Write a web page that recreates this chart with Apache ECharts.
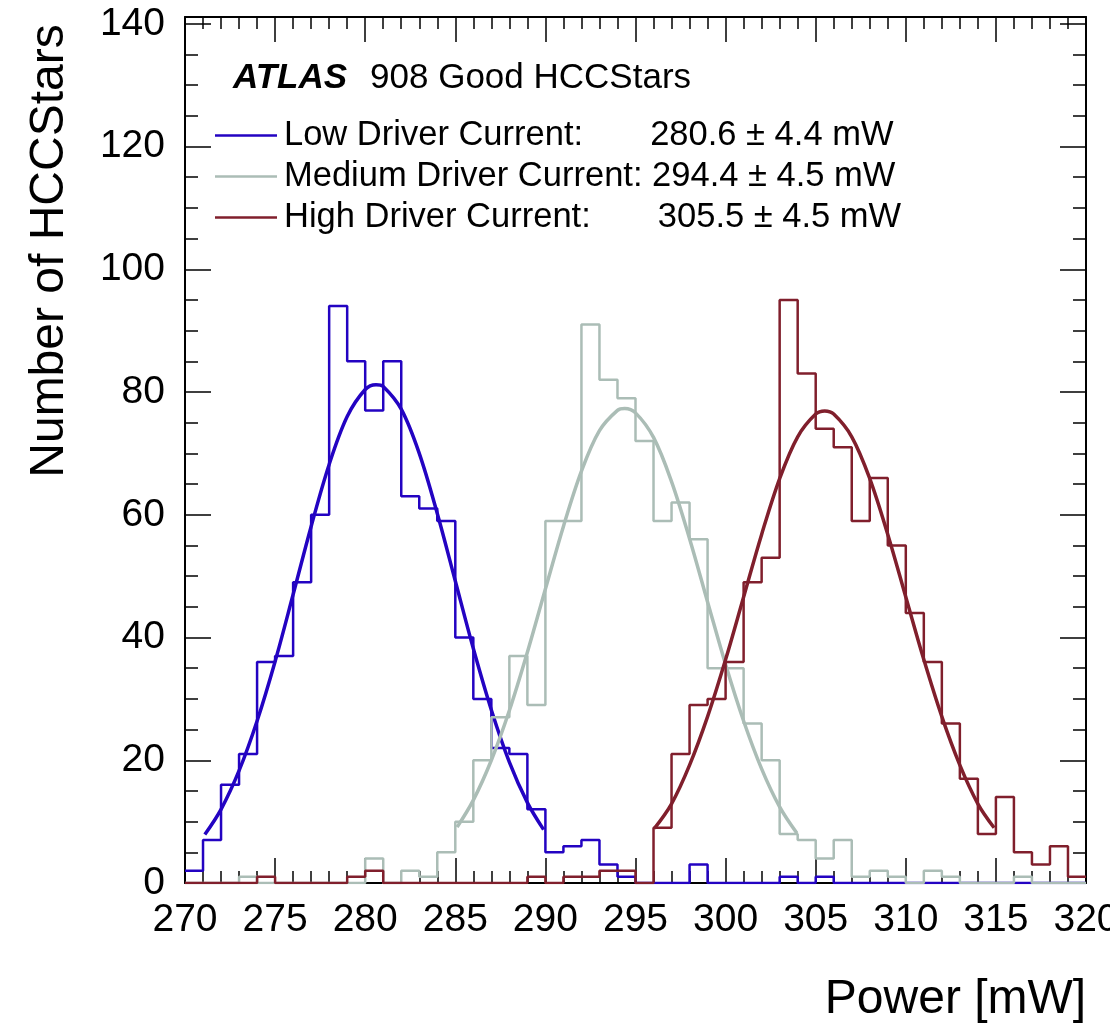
<!DOCTYPE html>
<html>
<head>
<meta charset="utf-8">
<script src="https://cdn.jsdelivr.net/npm/echarts@6/dist/echarts.min.js"></script>
<style>html,body{margin:0;padding:0;background:#fff}#c{width:1110px;height:1023px}</style>
</head>
<body>
<div id="c"></div>
<script>
// ---- data ----
const binStart = 270, binWidth = 1, nBins = 50;
const xTicks = [270, 275, 280, 285, 290, 295, 300, 305, 310, 315, 320];
const yTicks = [0, 20, 40, 60, 80, 100, 120, 140];

const lowCounts = [2,7,16,21,36,37,49,60,94,85, 77,85,63,61,59,40,30,22,21,12, 5,6,7,3,1,0,0,0,3,0, 0,0,0,1,0,1,0,0,0,0, 0,0,0,0,0,0,0,0,0,0];
const medCounts = [0,0,0,1,0,0,0,0,0,0, 4,0,2,1,5,10,20,27,37,29, 59,59,91,82,79,72,59,62,56,35, 35,26,20,8,7,4,7,1,2,1, 0,2,1,0,0,0,1,0,0,0];
const highCounts = [0,0,0,0,1,0,0,0,0,1, 2,0,0,0,0,0,0,0,0,1, 0,1,1,2,2,0,9,21,29,30, 36,49,53,95,83,74,71,59,66,55, 44,36,26,17,8,14,5,3,6,1];

const fitLowX = [271.1,272,273,274,275,276,277,278,279,280,280.6,281,282,283,284,285,286,287,288,289,289.9];
const fitLowY = [7.9,12.0,18.3,26.4,36.1,47.0,58.1,68.2,76.0,80.4,81.2,80.9,77.2,70.0,60.2,49.2,38.2,28.2,19.7,13.1,8.7];
const fitMedX = [285.1,286,287,288,289,290,291,292,293,294,294.4,295,296,297,298,299,300,301,302,303,303.96];
const fitMedY = [9.1,13.5,20.0,28.1,37.6,47.9,58.1,67.1,73.7,77.0,77.3,76.6,72.6,65.4,56.1,45.8,35.6,26.4,18.6,12.4,8.1];
const fitHighX = [296.05,297,298,299,300,301,302,303,304,305,305.5,306,307,308,309,310,311,312,313,314,314.9];
const fitHighY = [8.9,12.9,19.2,27.1,36.4,46.6,56.8,65.9,72.7,76.4,76.9,76.4,72.7,65.9,56.8,46.6,36.4,27.1,19.2,12.9,9.0];

const names = ['Low Driver Current:', 'Medium Driver Current:', 'High Driver Current:'];
const legendValues = ['280.6 \u00b1 4.4 mW', '294.4 \u00b1 4.5 mW', '305.5 \u00b1 4.5 mW'];
const legendSpacer = ['       ', ' ', '       '];
const colors = ['#2303c2', '#abbdb6', '#801f2c'];

// ---- build ----
const FONT = "'Liberation Sans', Arial, Helvetica, sans-serif";
function stepData(vals) {
  const d = vals.map((v, i) => [binStart + i * binWidth, v]);
  d.push([binStart + nBins * binWidth, vals[vals.length - 1]]);
  return d;
}
function pairs(xs, ys) { return xs.map((x, i) => [x, ys[i]]); }

const counts = [lowCounts, medCounts, highCounts];
const fits = [pairs(fitLowX, fitLowY), pairs(fitMedX, fitMedY), pairs(fitHighX, fitHighY)];

const series = [];
for (let k = 0; k < 3; k++) {
  series.push({
    name: 'hist' + k, type: 'line', step: 'end', symbol: 'none', data: stepData(counts[k]),
    lineStyle: { color: colors[k], width: 2.5 }, itemStyle: { color: colors[k] }, z: 2 + k * 2, animation: false
  });
  series.push({
    name: names[k], type: 'line', smooth: 0.35, symbol: 'none', data: fits[k],
    lineStyle: { color: colors[k], width: 3.5 }, itemStyle: { color: colors[k] }, z: 3 + k * 2, animation: false
  });
}

const xMin = xTicks[0], xMax = xTicks[xTicks.length - 1];
const yMin = yTicks[0], yMax = 141.1;
const axisLineStyle = { color: '#000', width: 2 };

const chart = echarts.init(document.getElementById('c'), null, { renderer: 'canvas' });
chart.setOption({
  animation: false,
  backgroundColor: '#fff',
  grid: { left: 185, right: 24, top: 17, bottom: 140, containLabel: false, outerBoundsMode: 'none' },
  title: {
    left: 228, top: 56,
    text: '{a|ATLAS}{b|908 Good HCCStars}',
    textStyle: {
      fontWeight: 'normal',
      rich: {
        a: { fontFamily: FONT, fontSize: 35, fontWeight: 'bold', fontStyle: 'italic', color: '#000' },
        b: { fontFamily: FONT, fontSize: 35, fontWeight: 'normal', color: '#000', padding: [0, 0, 0, 23] }
      }
    }
  },
  legend: {
    orient: 'vertical', left: 210, top: 110, itemGap: 0, selectedMode: false,
    icon: 'rect', itemWidth: 62, itemHeight: 2.5,
    data: names,
    formatter: function (n) { const i = names.indexOf(n); return n + legendSpacer[i] + legendValues[i]; },
    textStyle: { fontFamily: FONT, fontSize: 34.5, color: '#000', lineHeight: 41, padding: [0, 0, 0, 2] }
  },
  xAxis: [{
    type: 'value', min: xMin, max: xMax, interval: 5, position: 'bottom',
    axisLine: { show: true, onZero: false, lineStyle: axisLineStyle },
    axisTick: { show: true, inside: true, length: 25, lineStyle: { color: '#000', width: 1.5 } },
    minorTick: { show: true, splitNumber: 5, length: 12, lineStyle: { color: '#000', width: 1.5 } },
    splitLine: { show: false },
    axisLabel: { show: true, margin: 18, fontFamily: FONT, fontSize: 39, color: '#000', showMinLabel: true, showMaxLabel: true, hideOverlap: false },
    name: 'Power [mW]', nameLocation: 'middle', nameGap: 93,
    nameTextStyle: { fontFamily: FONT, fontSize: 48, color: '#000', padding: [0, 0, 0, 640] }
  }, {
    type: 'value', min: xMin, max: xMax, interval: 5, position: 'top',
    axisLine: { show: true, onZero: false, lineStyle: axisLineStyle },
    axisTick: { show: true, inside: true, length: 25, lineStyle: { color: '#000', width: 1.5 } },
    minorTick: { show: true, splitNumber: 5, length: 12, lineStyle: { color: '#000', width: 1.5 } },
    splitLine: { show: false }, axisLabel: { show: false }
  }],
  yAxis: [{
    type: 'value', min: yMin, max: yMax, interval: 20, position: 'left',
    axisLine: { show: true, onZero: false, lineStyle: axisLineStyle },
    axisTick: { show: true, inside: true, length: 26, lineStyle: { color: '#000', width: 1.5 } },
    minorTick: { show: true, splitNumber: 4, length: 13, lineStyle: { color: '#000', width: 1.5 } },
    splitLine: { show: false },
    axisLabel: { show: true, margin: 20, fontFamily: FONT, fontSize: 39, color: '#000', hideOverlap: false,
      formatter: function (v) { return yTicks.indexOf(v) >= 0 ? String(v) : ''; } },
    name: 'Number of HCCStars', nameLocation: 'middle', nameGap: 111, nameRotate: 90,
    nameTextStyle: { fontFamily: FONT, fontSize: 48, color: '#000', padding: [0, 0, 0, 398] }
  }, {
    type: 'value', min: yMin, max: yMax, interval: 20, position: 'right',
    axisLine: { show: true, onZero: false, lineStyle: axisLineStyle },
    axisTick: { show: true, inside: true, length: 26, lineStyle: { color: '#000', width: 1.5 } },
    minorTick: { show: true, splitNumber: 4, length: 13, lineStyle: { color: '#000', width: 1.5 } },
    splitLine: { show: false }, axisLabel: { show: false }
  }],
  series: series
});
</script>
</body>
</html>
